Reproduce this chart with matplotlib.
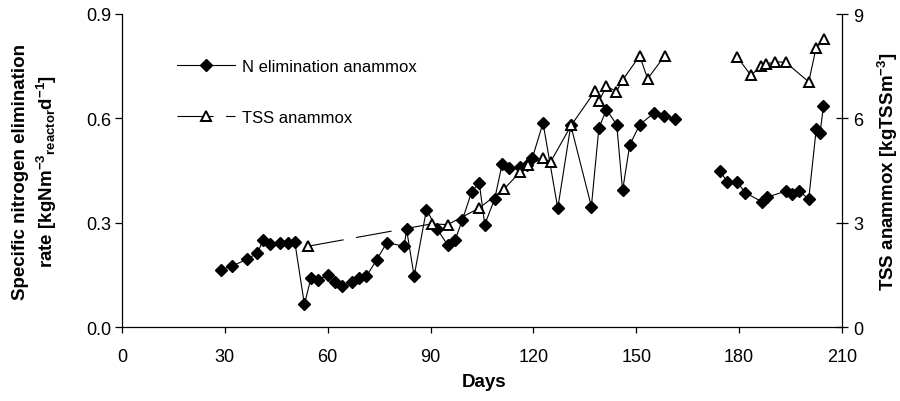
import numpy as np
import matplotlib
matplotlib.use('Agg')
import matplotlib.pyplot as plt
from matplotlib.lines import Line2D
from matplotlib.ticker import FormatStrFormatter

plt.rcParams['font.family'] = ['Liberation Sans', 'DejaVu Sans']
plt.rcParams['mathtext.default'] = 'regular'
plt.rcParams['lines.scale_dashes'] = False

# ---- data ----
n_days = [28.9, 32.2, 36.5, 39.5, 41.2, 43.2, 46.1, 48.3, 50.4, 53.2, 55.1, 57.1,
          60.2, 62.2, 64.3, 67.2, 69.1, 71.3, 74.3, 77.2, 82.3, 83.0, 85.2, 88.8,
          92.0, 95.0, 97.2, 99.3, 102.0, 104.2, 105.8, 108.7, 110.9, 112.9, 116.0,
          118.2, 119.7, 122.8, 127.1, 130.9, 136.9, 139.1, 141.3, 144.3, 146.0,
          148.1, 151.0, 155.2, 158.2, 161.2, np.nan,
          174.5, 176.6, 179.5, 181.7, 186.6, 188.2, 193.6, 195.5, 197.4, 200.3,
          202.5, 203.6, 204.6]
n_rate = [0.166, 0.176, 0.196, 0.213, 0.252, 0.238, 0.243, 0.243, 0.245, 0.066, 0.141, 0.136,
          0.150, 0.129, 0.120, 0.129, 0.142, 0.147, 0.194, 0.243, 0.233, 0.281, 0.147, 0.338,
          0.281, 0.236, 0.252, 0.309, 0.390, 0.415, 0.295, 0.369, 0.470, 0.457, 0.460,
          0.467, 0.487, 0.587, 0.342, 0.580, 0.347, 0.573, 0.625, 0.582, 0.393,
          0.524, 0.582, 0.616, 0.607, 0.599, np.nan,
          0.449, 0.416, 0.417, 0.387, 0.361, 0.374, 0.391, 0.382, 0.391, 0.369,
          0.571, 0.558, 0.637]

tss_days = [54.3, 90.3, 95.0, 104.1, 111.5, 116.1, 118.5, 122.8, 125.0, 131.0,
            138.1, 139.2, 141.3, 144.2, 146.0, 151.0, 153.3, 158.3, np.nan,
            179.5, 183.4, 186.5, 187.9, 190.6, 193.6, 200.3, 202.4, 204.7]
tss_vals = [2.33, 2.97, 2.95, 3.42, 3.98, 4.46, 4.67, 4.86, 4.75, 5.80,
            6.80, 6.51, 6.93, 6.77, 7.10, 7.80, 7.14, 7.80, np.nan,
            7.76, 7.24, 7.50, 7.56, 7.63, 7.61, 7.05, 8.01, 8.27]

x_ticks = [0, 30, 60, 90, 120, 150, 180, 210]
y_left_ticks = [0.0, 0.3, 0.6, 0.9]
y_right_ticks = [0, 3, 6, 9]

# ---- figure ----
W, H = 900, 402
fig = plt.figure(figsize=(W / 100, H / 100), dpi=100)
ax = fig.add_axes([122 / W, 1 - 328.3 / H, 720 / W, 313.3 / H])
ax2 = ax.twinx()

dash = (0, (26, 9))
lw = 0.8

ax.plot(n_days, n_rate, color='black', lw=lw, marker='D', ms=6.2,
        mfc='black', mec='black', zorder=3)

# TSS line: each segment starts its own dash pattern
for i in range(len(tss_days) - 1):
    xs = tss_days[i:i + 2]
    ys = tss_vals[i:i + 2]
    if np.any(np.isnan(xs)):
        continue
    ax2.plot(xs, ys, color='black', lw=lw, linestyle=dash, zorder=2)
ax2.plot(tss_days, tss_vals, linestyle='none', marker='^', ms=7.5,
         mfc='white', mec='black', mew=1.4, zorder=3)

ax.set_xlim(0, 210)
ax.set_ylim(0, 0.9)
ax2.set_ylim(0, 9)
ax.set_xticks(x_ticks)
ax.set_yticks(y_left_ticks)
ax2.set_yticks(y_right_ticks)
ax.yaxis.set_major_formatter(FormatStrFormatter('%.1f'))

for a in (ax, ax2):
    a.spines['top'].set_visible(False)
    a.set_facecolor('none')
ax2.spines['left'].set_visible(False)
ax2.spines['bottom'].set_visible(False)
ax.spines['right'].set_visible(False)
for s in ('left', 'bottom'):
    ax.spines[s].set_linewidth(0.9)
ax2.spines['right'].set_linewidth(0.9)

ax.tick_params(axis='y', direction='out', length=5, width=0.9, labelsize=13, pad=3)
ax.tick_params(axis='x', direction='out', length=4, width=0.9, labelsize=13, pad=11)
ax2.tick_params(axis='y', direction='inout', length=8, width=0.9, labelsize=13, pad=4)

# axis titles
fig.text(484 / W, 1 - 383 / H, 'Days', ha='center', va='center',
         fontsize=13.5, fontweight='bold')
fig.text(35.5 / W, 1 - 171.5 / H,
         'Specific nitrogen elimination\nrate [kgNm$^{-3}$$_{reactor}$d$^{-1}$]',
         ha='center', va='center', rotation=90, fontsize=13.5,
         fontweight='bold', multialignment='center', linespacing=1.3)
fig.text(888 / W, 1 - 171.5 / H, 'TSS anammox [kgTSSm$^{-3}$]',
         ha='center', va='center', rotation=90, fontsize=13.5, fontweight='bold')

# legend
h1 = Line2D([], [], color='black', lw=lw, marker='D', ms=6.2, mfc='black', mec='black')
h2 = Line2D([], [], color='black', lw=lw, linestyle=dash, marker='^', ms=7.5,
            mfc='white', mec='black', mew=1.4)
leg = ax2.legend([h1, h2], ['N elimination anammox', 'TSS anammox'],
                 loc='upper left', bbox_to_anchor=(177 / W, 1 - 60 / H),
                 bbox_transform=fig.transFigure, frameon=False, fontsize=12,
                 handlelength=3.45, handletextpad=0.45, borderpad=0,
                 borderaxespad=0, labelspacing=2.15, numpoints=1)

fig.savefig('out.png', dpi=100)
